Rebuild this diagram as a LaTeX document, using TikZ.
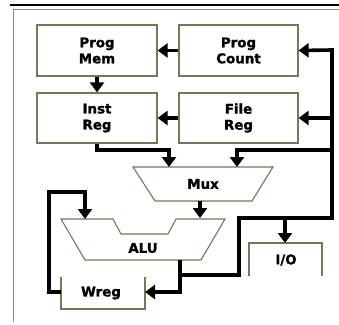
\documentclass[tikz,border=0pt]{standalone}
\usepackage{fontspec}
\setmainfont{DejaVu Sans}
\newfontfamily\lblfont{DejaVu Sans Bold}[FakeBold=1.4]
\usetikzlibrary{arrows.meta}
\definecolor{boxline}{RGB}{118,118,88}
\definecolor{frameline}{RGB}{140,135,120}
\tikzset{
  lblfnt/.style={font=\lblfont\fontsize{13.4}{16}\selectfont},
  blk/.style={draw=boxline, line width=1.2pt, fill=white, minimum width=120pt, minimum height=51pt,
    inner sep=0pt, align=center, lblfnt},
  lbl/.style={inner sep=0pt, lblfnt},
  shp/.style={draw=boxline, line width=1.1pt, fill=white, line join=miter},
  conn/.style={line width=3.6pt, line join=miter, -{Triangle[width=14pt,length=10pt]}},
}
\begin{document}
\begin{tikzpicture}[x=1pt,y=-1pt]
\useasboundingbox (0,0) rectangle (339,324);
% frame
\draw[black, line width=1.4pt] (10,5) -- (339,5);
\draw[frameline, line width=0.9pt] (13,322) -- (13,9) -- (339,9);
% boxes
\node[blk] (pm) at (97,50.5) {Prog\\Mem};
\node[blk, minimum width=119pt] (pc) at (238.5,50.5) {Prog\\Count};
\node[blk, minimum height=50pt] (ir) at (97,118) {Inst\\Reg};
\node[blk, minimum width=119pt, minimum height=50pt] (fr) at (238.5,118) {File\\Reg};
% mux
\draw[shp] (133,167) -- (273,167) -- (252,201) -- (155,201) -- cycle;
\node[lbl] (mux) at (203,184) {Mux};
\coordinate (muxinL) at (169,167);
\coordinate (muxinR) at (237,167);
\coordinate (muxout) at (200,201);
% alu
\draw[shp] (61,219) -- (113,219) -- (121,234) -- (168,234) -- (176,219) -- (225,219)
  -- (201,260) -- (85,260) -- cycle;
\node[lbl] (alu) at (143,248) {ALU};
\coordinate (aluinL) at (85,219);
\coordinate (aluinR) at (200,218);
\coordinate (aluout) at (180,260);
% wreg (open top)
\draw[boxline, line width=1.1pt] (61,277) -- (61,309) -- (145,309) -- (145,277);
\node[lbl] (wreg) at (101,293) {Wreg};
\coordinate (wregE) at (145,292);
\coordinate (wregW) at (61,292);
% io (open bottom)
\draw[boxline, line width=1.1pt] (249,276) -- (249,243) -- (322,243) -- (322,276);
\node[lbl] (io) at (286,260) {I/O};
\coordinate (ioN) at (285,243);
% connectors
\draw[conn] (pc.west) -- (pm.east);
\draw[conn] (pm.south) -- (ir.north);
\draw[conn] (fr.west) -- (ir.east);
\draw[conn] (ir.south) |- (169,150) -- (muxinL);
\draw[conn] (muxout) -- (aluinR);
\draw[conn] (aluout) -- (180,292) -- (wregE);
\draw[conn] (180,275) -| (239,218) -| (332,50) -- (pc.east);
\draw[conn] (333,118) -- (fr.east);
\draw[conn] (333,150) -| (muxinR);
\draw[conn] (285,218) -- (ioN);
\draw[conn] (wregW) -| (49,192) -| (aluinL);
\end{tikzpicture}
\end{document}
